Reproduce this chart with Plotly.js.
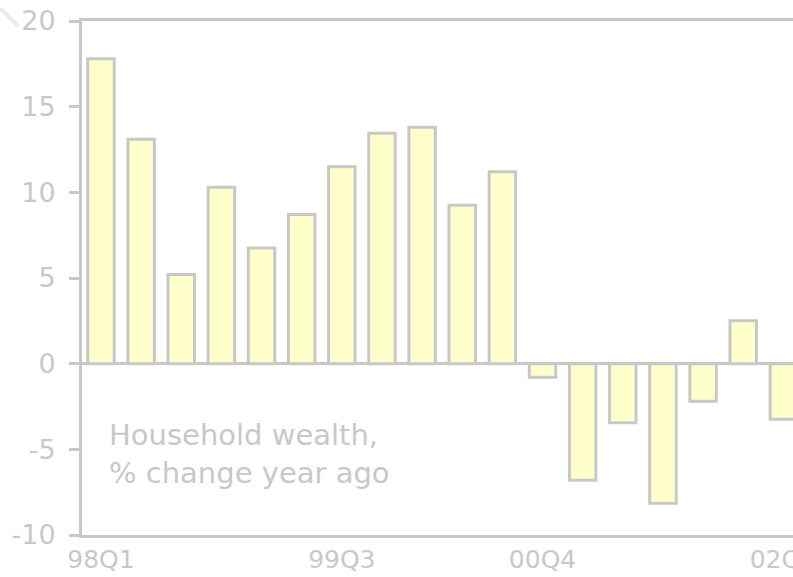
<!DOCTYPE html>
<html>
<head>
<meta charset="utf-8">
<script src="https://cdn.plot.ly/plotly-3.0.1.min.js"></script>
<style>
  html, body { margin: 0; padding: 0; background: #ffffff; }
  #chart { width: 793px; height: 577px; }
</style>
</head>
<body>
<div id="chart"></div>
<script>
// Quarters shown on the x axis
var quarters = ['98Q1','98Q2','98Q3','98Q4','99Q1','99Q2','99Q3','99Q4',
                '00Q1','00Q2','00Q3','00Q4','01Q1','01Q2','01Q3','01Q4',
                '02Q1','02Q2'];
// Household wealth, % change year ago
var wealthChange = [17.8, 13.1, 5.2, 10.3, 6.75, 8.7, 11.5, 13.45,
                    13.8, 9.25, 11.2, -0.8, -6.8, -3.45, -8.15, -2.2,
                    2.5, -3.25];
// Labelled ticks
var xTickLabels = ['98Q1','99Q3','00Q4','02Q2'];
var yTickValues = [-10, -5, 0, 5, 10, 15, 20];
var yTickLabels = ['-10', '-5', '0', '5', '10', '15', '20'];
var annotationText = 'Household wealth,<br>% change year ago';

var grey = '#c8c8c8';
var family = 'DejaVu Sans, Liberation Sans, sans-serif';

var trace = {
  type: 'bar',
  x: quarters,
  y: wealthChange,
  width: 0.66,
  marker: {color: '#ffffcc', line: {color: grey, width: 3}},
  hoverinfo: 'x+y'
};

var layout = {
  width: 793,
  height: 577,
  margin: {l: 82, r: 0, t: 21, b: 42, pad: 0},
  paper_bgcolor: '#ffffff',
  plot_bgcolor: '#ffffff',
  showlegend: false,
  font: {family: family, size: 27, color: grey},
  xaxis: {
    type: 'category',
    categoryorder: 'array',
    categoryarray: quarters,
    range: [-0.473, 17.24],
    tickmode: 'array',
    tickvals: xTickLabels,
    ticktext: xTickLabels,
    ticks: '',
    showgrid: false,
    zeroline: false,
    showline: true,
    mirror: true,
    linecolor: grey,
    linewidth: 3,
    tickfont: {family: family, size: 25, color: grey},
    ticklabelstandoff: 0,
    fixedrange: true
  },
  yaxis: {
    range: [-10, 20],
    tickmode: 'array',
    tickvals: yTickValues,
    ticktext: yTickLabels,
    ticks: 'outside',
    ticklen: 10,
    tickwidth: 3,
    tickcolor: grey,
    showgrid: false,
    zeroline: true,
    zerolinecolor: grey,
    zerolinewidth: 3,
    showline: true,
    linecolor: grey,
    linewidth: 3,
    tickfont: {family: family, size: 27, color: grey},
    ticklabelstandoff: 8,
    fixedrange: true
  },
  annotations: [{
    xref: 'paper', yref: 'paper',
    x: 0.0355, y: 0.158,
    xanchor: 'left', yanchor: 'middle',
    align: 'left',
    showarrow: false,
    text: annotationText,
    font: {family: family, size: 29, color: grey}
  }],
  shapes: [{
    type: 'line', xref: 'paper', yref: 'paper',
    x0: -0.115, y0: 1.025, x1: -0.09, y1: 0.99,
    line: {color: '#ececec', width: 4}
  }]
};

Plotly.newPlot('chart', [trace], layout, {displayModeBar: false, staticPlot: true});
</script>
</body>
</html>
